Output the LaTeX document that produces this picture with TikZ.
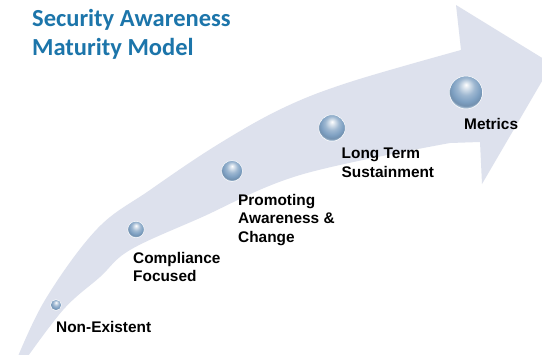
\documentclass[tikz,border=0pt]{standalone}
\usepackage{fontspec}
\setmainfont{Liberation Sans}
\newfontfamily\titlefont{Carlito}
\definecolor{arrowfill}{RGB}{221,225,237}
\definecolor{titleblue}{RGB}{28,117,170}
\definecolor{sph}{RGB}{126,160,194}
\pgfdeclareradialshading{sphereshade}{\pgfpoint{0bp}{12bp}}{%
  color(0bp)=(white);
  color(5bp)=(sph!30!white);
  color(13bp)=(sph!75!white);
  color(21bp)=(sph);
  color(26bp)=(sph!90!black);
  color(29bp)=(sph!50!white);
  color(50bp)=(white)}
\tikzset{
  sphere/.style={circle, inner sep=0pt, shading=sphereshade, draw=white, line width=0.5bp},
  stagelabel/.style={anchor=north west, inner sep=0pt, align=left,
     font=\bfseries\fontsize{15.4bp}{18.5bp}\selectfont, text=black},
}
\begin{document}
\begin{tikzpicture}[x=1bp, y=-1bp]
\useasboundingbox (0,0) rectangle (542,354);
\clip (0,0) rectangle (542,354);
\fill[white] (0,0) rectangle (542,354);
% big curved arrow
\fill[arrowfill]
  plot[smooth, tension=0.6] coordinates {(14,366) (45,300) (97,229) (150,190) (217,145) (283,108) (350,82) (461,50)}
  -- (456,5) -- (552,64) -- (482,184) -- (480,142)
  -- plot[smooth, tension=0.6] coordinates {(450,143) (300,175) (200,218) (130,250) (100,277) (63,310) (21,366)}
  -- cycle;
% title
\node[anchor=north west, inner sep=0pt, align=left, text=titleblue,
  font=\titlefont\bfseries\fontsize{24.5bp}{28.5bp}\selectfont] (title) at (32,9.5)
  {Security Awareness\\Maturity Model};
% spheres
\node[sphere, minimum size=11bp] (s1) at (56,305) {};
\node[sphere, minimum size=16.5bp] (s2) at (136,229.5) {};
\node[sphere, minimum size=21bp] (s3) at (232,171) {};
\node[sphere, minimum size=26.5bp] (s4) at (332,128) {};
\node[sphere, minimum size=33bp] (s5) at (466,92.5) {};
% labels
\node[stagelabel] (l1) at (56,321) {Non-Existent};
\node[stagelabel] (l2) at (133,252) {Compliance\\Focused};
\node[stagelabel] (l3) at (238,194) {Promoting\\Awareness \&\\Change};
\node[stagelabel] (l4) at (341.5,148) {Long Term\\Sustainment};
\node[stagelabel] (l5) at (464,118) {Metrics};
\end{tikzpicture}
\end{document}
